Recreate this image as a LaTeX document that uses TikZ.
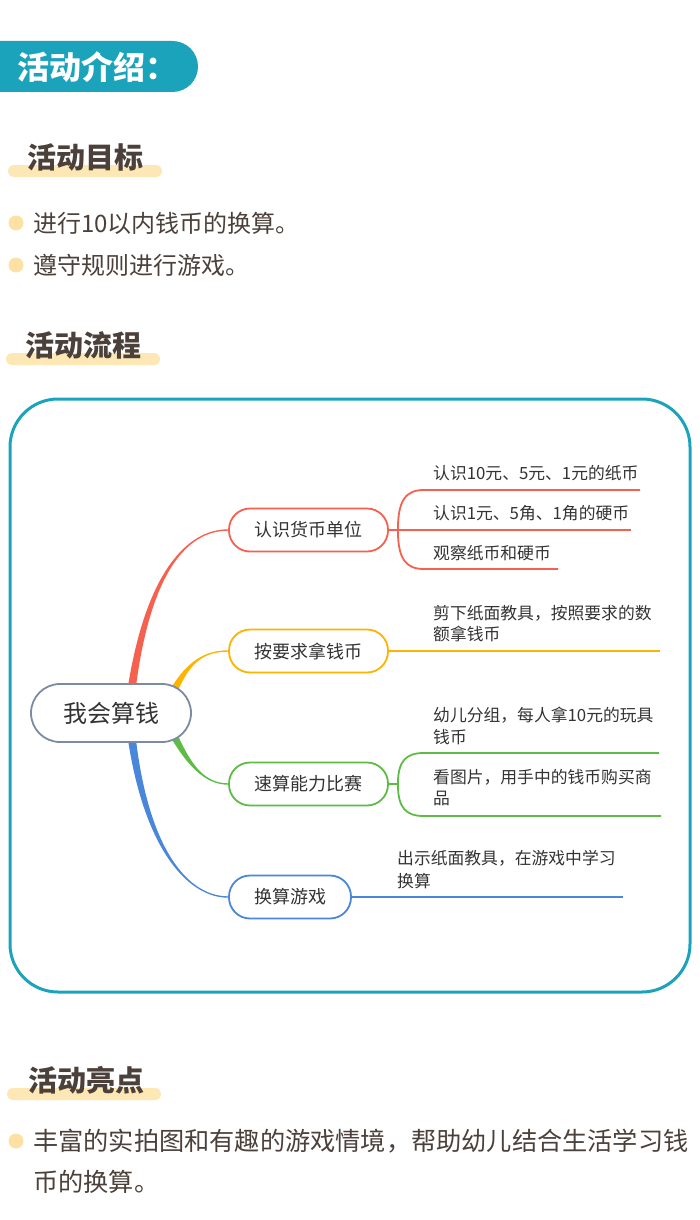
\documentclass[tikz,border=0pt]{standalone}
\usepackage{fontspec}
\setmainfont{Noto Sans CJK SC}
\usetikzlibrary{calc}
\pgfdeclarelayer{background}
\pgfsetlayers{background,main}
\definecolor{tealc}{HTML}{1BA3BB}
\definecolor{headc}{HTML}{4B403A}
\definecolor{barc}{HTML}{FDE8B5}
\definecolor{dotc}{HTML}{FDE1A4}
\definecolor{redc}{HTML}{F5604F}
\definecolor{orgc}{HTML}{FCB400}
\definecolor{grnc}{HTML}{5DBB46}
\definecolor{bluc}{HTML}{4A86D9}
\definecolor{rootc}{HTML}{7D8BA0}
\definecolor{txtc}{HTML}{333333}
\newcommand\taper[6]{%
  \fill[#1] ($(#2)+(-4,0)$) .. controls ($(#3)+(-2.2,0)$) and ($(#4)+(0,#6)$) .. ($(#5)+(0,#6)$)
     -- ($(#5)+(0,-#6)$) .. controls ($(#4)+(0,-#6)$) and ($(#3)+(2.2,0)$) .. ($(#2)+(4,0)$) -- cycle;}
\begin{document}
\begin{tikzpicture}[x=1pt,y=-1pt,
  heading/.style={anchor=west,inner sep=0pt,text=headc,font=\fontsize{29}{29}\selectfont\bfseries},
  bullettext/.style={anchor=west,inner sep=0pt,text=headc,font=\fontsize{24}{24}\selectfont},
  branch/.style={draw=#1,line width=1.8pt,rounded corners=21pt,minimum height=43pt,inner sep=0pt,fill=white,text=txtc,font=\fontsize{18}{18}\selectfont},
  leaf/.style={anchor=west,inner sep=0pt,text=txtc,font=\fontsize{16.8}{16.8}\selectfont},
  leafline/.style={draw=#1,line width=1.8pt}]
\useasboundingbox (0,0) rectangle (700,1220);

% banner
\fill[tealc] (0,41) [rounded corners=25.5pt] -- (198,41) -- (198,92) [sharp corners] -- (0,92) -- cycle;
\node[anchor=west,inner sep=0pt,text=white,font=\fontsize{32}{32}\selectfont\bfseries] (banner) at (17,67) {活动介绍：};

% section 1
\fill[barc,rounded corners=6pt] (8,165) rectangle (162,177);
\node[heading] (h1) at (27,157) {活动目标};
\fill[dotc] (16,223) circle (7.5);
\node[bullettext] (b1) at (33,223) {进行10以内钱币的换算。};
\fill[dotc] (16,265) circle (7.5);
\node[bullettext] (b2) at (33,265) {遵守规则进行游戏。};

% section 2
\fill[barc,rounded corners=6pt] (6,353) rectangle (160,365);
\node[heading] (h2) at (25,345) {活动流程};
\draw[tealc,line width=3pt,rounded corners=48pt] (10,399) rectangle (690,992);

% root and branches
\node[branch=rootc,minimum width=160pt,minimum height=58pt,rounded corners=29pt,font=\fontsize{24}{24}\selectfont] (root) at (111,713) {我会算钱};
\node[branch=redc,minimum width=159pt] (n1) at (308.5,530) {认识货币单位};
\node[branch=orgc,minimum width=159pt] (n2) at (308.5,651) {按要求拿钱币};
\node[branch=grnc,minimum width=159pt] (n3) at (308.5,784) {速算能力比赛};
\node[branch=bluc,minimum width=122pt] (n4) at (290,897) {换算游戏};

\coordinate (rs) at ($(root.north)+(21,3)$);
\coordinate (rc1) at ($(rs)+(17,-116)$);
\coordinate (rc2) at ($(n1.west)+(-40,0)$);
\coordinate (os) at ($(root.north)+(64,5)$);
\coordinate (oc1) at ($(os)+(14,-26)$);
\coordinate (oc2) at ($(n2.west)+(-24,0)$);
\coordinate (gs) at ($(root.south)+(64,-5)$);
\coordinate (gc1) at ($(gs)+(14,26)$);
\coordinate (gc2) at ($(n3.west)+(-24,0)$);
\coordinate (bs) at ($(root.south)+(21,-3)$);
\coordinate (bc1) at ($(bs)+(15,110)$);
\coordinate (bc2) at ($(n4.west)+(-40,0)$);
\begin{pgfonlayer}{background}
\taper{redc}{rs}{rc1}{rc2}{n1.west}{-0.7}
\taper{orgc}{os}{oc1}{oc2}{n2.west}{-0.7}
\taper{grnc}{gs}{gc1}{gc2}{n3.west}{0.7}
\taper{bluc}{bs}{bc1}{bc2}{n4.west}{0.7}
\end{pgfonlayer}

% red leaves
\coordinate (j1) at ($(n1.east)+(9,0)$);
\coordinate (e11) at (640,490);
\coordinate (e12) at (631,530);
\coordinate (e13) at (558,569);
\draw[leafline=redc] (n1.east) -- (j1);
\draw[leafline=redc] (j1) .. controls ($(j1)+(0,-30)$) and ($(j1)+(8,-40)$) .. ($(j1)+(26,-40)$) -- (e11);
\draw[leafline=redc] (j1) -- (e12);
\draw[leafline=redc] (j1) .. controls ($(j1)+(0,29)$) and ($(j1)+(8,39)$) .. ($(j1)+(26,39)$) -- (e13);
\node[leaf] (l11) at (433,473) {认识10元、5元、1元的纸币};
\node[leaf] (l12) at (433,513) {认识1元、5角、1角的硬币};
\node[leaf] (l13) at (433,553) {观察纸币和硬币};

% orange leaf
\coordinate (e21) at (660,651);
\draw[leafline=orgc] (n2.east) -- (e21);
\node[leaf] (l21a) at (433,613) {剪下纸面教具，按照要求的数};
\node[leaf] (l21b) at (433,634) {额拿钱币};

% green leaves
\coordinate (j3) at ($(n3.east)+(9,0)$);
\coordinate (e31) at (659,753);
\coordinate (e32) at (661,816);
\draw[leafline=grnc] (n3.east) -- (j3);
\draw[leafline=grnc] (j3) .. controls ($(j3)+(0,-23)$) and ($(j3)+(8,-31)$) .. ($(j3)+(26,-31)$) -- (e31);
\draw[leafline=grnc] (j3) .. controls ($(j3)+(0,24)$) and ($(j3)+(8,32)$) .. ($(j3)+(26,32)$) -- (e32);
\node[leaf] (l31a) at (433,715) {幼儿分组，每人拿10元的玩具};
\node[leaf] (l31b) at (433,737) {钱币};
\node[leaf] (l32a) at (433,777) {看图片，用手中的钱币购买商};
\node[leaf] (l32b) at (433,798) {品};

% blue leaf
\coordinate (e41) at (623,897);
\draw[leafline=bluc] (n4.east) -- (e41);
\node[leaf] (l41a) at (397,858) {出示纸面教具，在游戏中学习};
\node[leaf] (l41b) at (397,881) {换算};

% section 3
\fill[barc,rounded corners=6pt] (7,1088) rectangle (161,1100);
\node[heading] (h3) at (28,1080) {活动亮点};
\fill[dotc] (16,1141) circle (7.5);
\node[bullettext,font=\fontsize{25.2}{25.2}\selectfont] (b3a) at (33,1141) {丰富的实拍图和有趣的游戏情境，帮助幼儿结合生活学习钱};
\node[bullettext,font=\fontsize{25.2}{25.2}\selectfont] (b3b) at (33,1182) {币的换算。};
\end{tikzpicture}
\end{document}
